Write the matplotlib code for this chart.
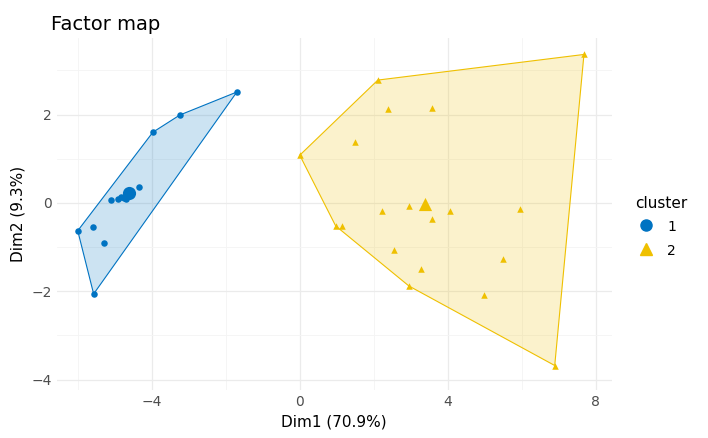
import numpy as np
import matplotlib.pyplot as plt
from matplotlib.lines import Line2D

# cluster 1 points (Dim1, Dim2)
c1_x = [-6.0, -5.57, -5.59, -5.30, -5.11, -4.92, -4.84, -4.76, -4.70, -4.35, -3.97, -3.24, -1.70]
c1_y = [-0.63, -2.06, -0.54, -0.90, 0.07, 0.09, 0.14, 0.11, 0.09, 0.36, 1.60, 1.99, 2.51]
# cluster 2 points
c2_x = [0.0, 2.11, 7.68, 2.38, 3.57, 1.49, 0.97, 1.14, 2.22, 2.95, 3.35, 4.05, 5.95, 3.57, 2.54, 3.27, 2.95, 5.49, 4.97, 6.89]
c2_y = [1.08, 2.78, 3.36, 2.12, 2.15, 1.38, -0.52, -0.52, -0.18, -0.07, -0.05, -0.18, -0.14, -0.36, -1.06, -1.49, -1.88, -1.27, -2.08, -3.68]

blue = '#0073C2'
yellow = '#EFC000'


def hull(xs, ys):
    pts = sorted(set(zip(xs, ys)))
    def cross(o, a, b):
        return (a[0]-o[0])*(b[1]-o[1]) - (a[1]-o[1])*(b[0]-o[0])
    lower, upper = [], []
    for p in pts:
        while len(lower) >= 2 and cross(lower[-2], lower[-1], p) <= 0:
            lower.pop()
        lower.append(p)
    for p in reversed(pts):
        while len(upper) >= 2 and cross(upper[-2], upper[-1], p) <= 0:
            upper.pop()
        upper.append(p)
    return np.array(lower[:-1] + upper[:-1])


fig = plt.figure(figsize=(7.08, 4.38), dpi=100)
ax = fig.add_axes([0.08, 0.11, 0.784, 0.803])

for xs, ys, col, mk in [(c1_x, c1_y, blue, 'o'), (c2_x, c2_y, yellow, '^')]:
    h = hull(xs, ys)
    ax.fill(h[:, 0], h[:, 1], facecolor=col, alpha=0.2, edgecolor='none', zorder=1)
    ax.fill(h[:, 0], h[:, 1], facecolor='none', edgecolor=col, lw=0.8, zorder=2)
    ax.scatter(xs, ys, color=col, marker=mk, s=22, zorder=3, linewidths=0)
    ax.scatter([np.mean(xs)], [np.mean(ys)], color=col, marker=mk, s=90, zorder=3, linewidths=0)

ax.set_xlim(-6.57, 8.43)
ax.set_ylim(-4.23, 3.73)
ax.set_xticks([-4, 0, 4, 8])
ax.set_yticks([-4, -2, 0, 2])
ax.set_xticks([-6, -2, 2, 6], minor=True)
ax.set_yticks([-3, -1, 1, 3], minor=True)
ax.grid(which='major', color='#EBEBEB', lw=0.9)
ax.grid(which='minor', color='#F4F4F4', lw=0.6)
ax.set_axisbelow(True)
for s in ax.spines.values():
    s.set_visible(False)
ax.tick_params(which='both', length=0, labelsize=10, colors='#4D4D4D')
ax.set_xlabel('Dim1 (70.9%)', fontsize=11)
ax.set_ylabel('Dim2 (9.3%)', fontsize=11)
ax.set_title('Factor map', loc='left', fontsize=14, x=-0.01)

handles = [Line2D([], [], marker='o', color=blue, ls='none', markersize=8, markerfacecolor=blue),
           Line2D([], [], marker='^', color=yellow, ls='none', markersize=8, markerfacecolor=yellow)]
leg = fig.legend(handles, ['1', '2'], title='cluster', loc='center left',
                 bbox_to_anchor=(0.88, 0.48), frameon=False, fontsize=10, title_fontsize=11,
                 handlelength=1.5, handleheight=1.5)
leg._legend_box.align = 'left'

fig.savefig('out.png', dpi=100)
